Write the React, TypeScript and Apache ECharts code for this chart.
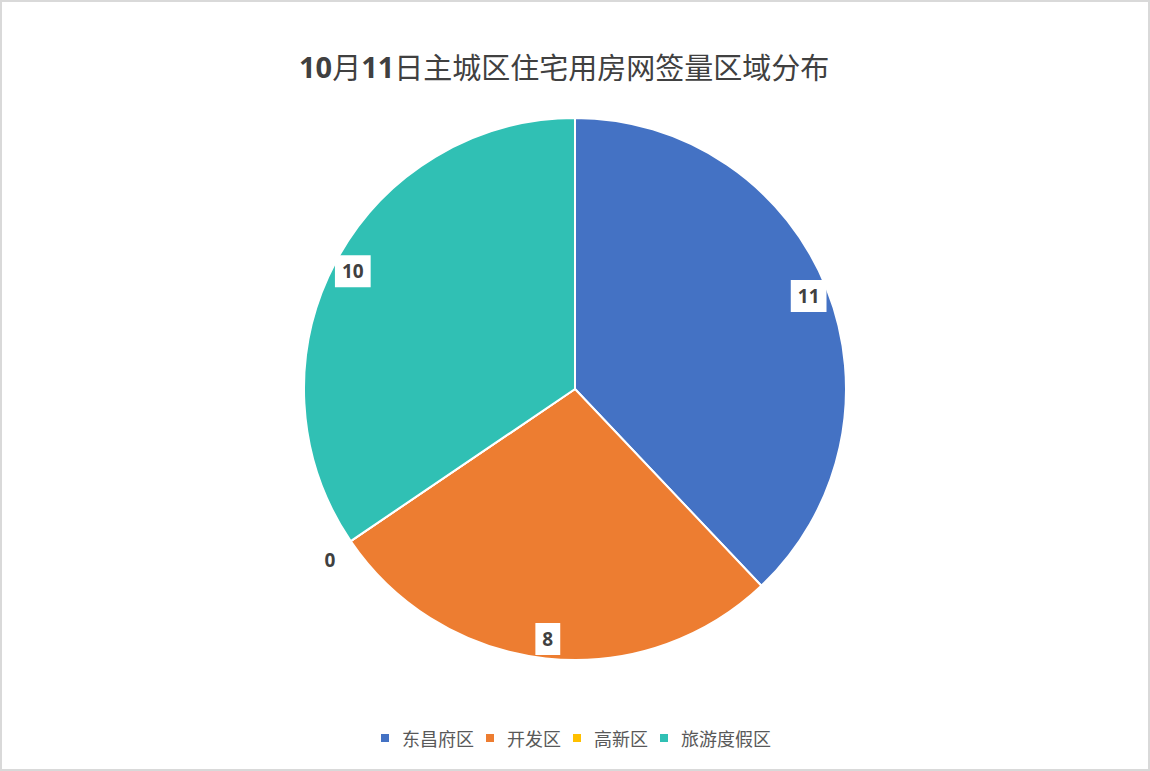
import { useEffect, useRef } from 'react'
import * as echarts from 'echarts'

const categories = ['东昌府区', '开发区', '高新区', '旅游度假区']
const values = [11, 8, 0, 10]
const colors = ['#4472C4', '#ED7D31', '#FFC000', '#30C0B4']
const titleText = '{b|10}月{b|11}日主城区住宅用房网签量区域分布'

export default function App() {
  const chartRef = useRef<HTMLDivElement | null>(null)

  useEffect(() => {
    if (!chartRef.current) return
    const chart = echarts.init(chartRef.current, undefined, { renderer: 'svg' })

    const pieData = categories.map((name, i) => ({
      name,
      value: values[i],
      itemStyle: { color: colors[i] }
    }))

    // labels ride on a transparent ring so they sit near the outer edge
    const labelData = categories.map((name, i) => ({
      name,
      value: values[i],
      label:
        values[i] === 0
          ? { backgroundColor: 'transparent', offset: [-37, 30] }
          : undefined
    }))

    const option: echarts.EChartsOption = {
      animation: false,
      backgroundColor: '#ffffff',
      title: {
        text: titleText,
        left: 297,
        top: 48,
        padding: 0,
        textStyle: {
          fontFamily: '"Noto Sans CJK SC", sans-serif',
          fontSize: 29,
          fontWeight: 'normal',
          color: '#404040',
          lineHeight: 32,
          rich: {
            b: {
              fontFamily: '"Open Sans", sans-serif',
              fontSize: 29,
              fontWeight: 'bold',
              color: '#404040',
              lineHeight: 32
            }
          }
        }
      },
      legend: {
        data: categories,
        top: 727,
        left: 'center',
        padding: 0,
        itemWidth: 10,
        itemHeight: 10,
        itemGap: 10,
        icon: 'rect',
        selectedMode: false,
        textStyle: {
          fontFamily: '"Noto Sans CJK SC", sans-serif',
          fontSize: 18,
          color: '#595959',
          padding: [0, 0, 0, 7]
        }
      },
      series: [
        {
          type: 'pie',
          center: [573, 387],
          radius: [0, 271],
          startAngle: 90,
          clockwise: true,
          silent: true,
          itemStyle: { borderColor: '#ffffff', borderWidth: 2 },
          label: { show: false },
          labelLine: { show: false },
          data: pieData
        },
        {
          type: 'pie',
          center: [573, 387],
          radius: [226, 271],
          startAngle: 90,
          clockwise: true,
          silent: true,
          itemStyle: { color: 'transparent', borderWidth: 0 },
          label: {
            show: true,
            position: 'inside',
            formatter: '{c}',
            fontFamily: '"Open Sans", sans-serif',
            fontSize: 19,
            fontWeight: 'bold',
            color: '#404040',
            backgroundColor: '#ffffff',
            padding: [7, 7, 6, 7]
          },
          labelLine: { show: false },
          data: labelData
        }
      ]
    }

    chart.setOption(option)
    return () => chart.dispose()
  }, [])

  return (
    <div
      style={{
        position: 'fixed',
        left: 0,
        top: 0,
        width: 1150,
        height: 771,
        boxSizing: 'border-box',
        border: '2px solid #d9d9d9',
        background: '#ffffff'
      }}
    >
      <div ref={chartRef} style={{ width: 1146, height: 767 }} />
    </div>
  )
}
